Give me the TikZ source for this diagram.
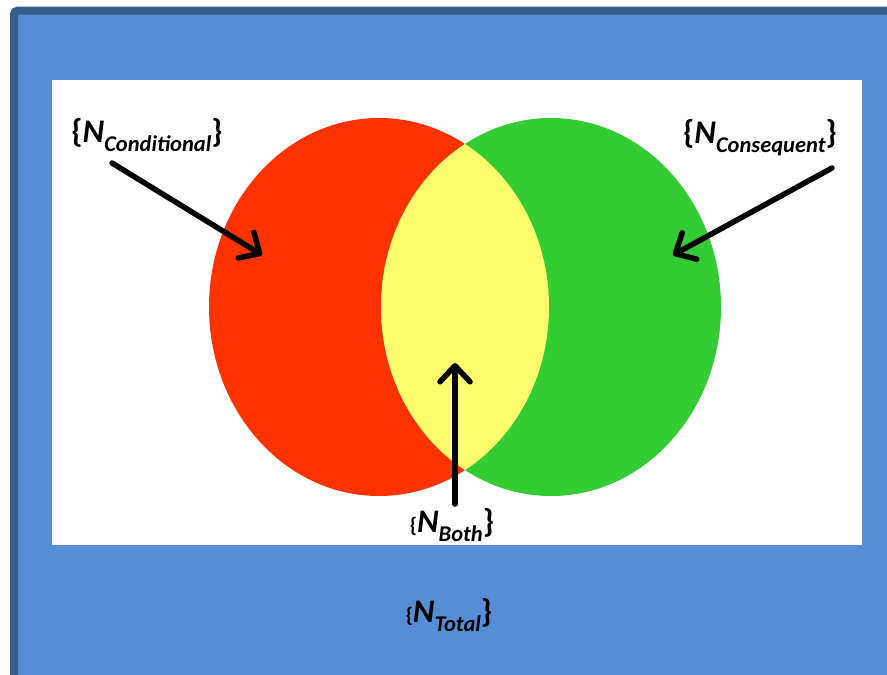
\documentclass[tikz,border=0pt]{standalone}
\usepackage{fontspec}
\setmainfont{Carlito}
\usetikzlibrary{arrows.meta}

\definecolor{panelblue}{HTML}{558ED5}
\definecolor{framedark}{HTML}{3A5E8C}
\definecolor{vennred}{HTML}{FF3300}
\definecolor{venngreen}{HTML}{33CC33}
\definecolor{vennyellow}{HTML}{FFFF6E}

% {N_sub} label: #1 = size of the opening brace, #2 = subscript text
\newcommand\vennlabel[2]{%
  {\bfseries\fontsize{#1}{#1}\selectfont\{}%
  {\bfseries\fontsize{33}{33}\selectfont\itshape N}%
  \raisebox{-9pt}{\bfseries\fontsize{22.5}{22.5}\selectfont\itshape #2}%
  {\bfseries\fontsize{33}{33}\selectfont\}}}

\tikzset{
  setlabel/.style={inner sep=0pt, anchor=base, text=black},
  pointer/.style={line width=5.5pt, draw=black, line cap=round,
    -{Straight Barb[length=16pt, width=30pt, round]}},
}

\begin{document}
\begin{tikzpicture}[x=1pt, y=-1pt]
  \useasboundingbox (0,0) rectangle (887,675);

  % framed blue panel running off the right and bottom edges
  \begin{scope}
    \clip (0,0) rectangle (887,675);
    \draw[line width=8pt, draw=framedark, fill=panelblue, rounded corners=4pt]
      (14,10.5) rectangle (920,710);
  \end{scope}

  % white sheet
  \fill[white] (52,80) rectangle (862,545);

  % the two sets and their overlap
  \fill[vennred] (379,307) ellipse [x radius=170pt, y radius=189pt];
  \fill[venngreen] (551,307) ellipse [x radius=170pt, y radius=189pt];
  \begin{scope}
    \clip (379,307) ellipse [x radius=170pt, y radius=189pt];
    \fill[vennyellow] (551,307) ellipse [x radius=170pt, y radius=189pt];
  \end{scope}

  % labels
  \node[setlabel] (cond)  at (147,142) {\vennlabel{33}{Conditional}};
  \node[setlabel] (cons)  at (760,143) {\vennlabel{33}{Consequent}};
  \node[setlabel] (both)  at (452,532) {\vennlabel{21}{Both}};
  \node[setlabel] (total) at (449,622) {\vennlabel{21}{Total}};

  % arrow end points
  \coordinate (condfrom) at (112,163);
  \coordinate (condto)   at (262,255);
  \coordinate (consfrom) at (832,168);
  \coordinate (consto)   at (673,255);
  \coordinate (bothfrom) at (455,504);
  \coordinate (bothto)   at (455,363);

  \draw[pointer] (condfrom) -- (condto);
  \draw[pointer] (consfrom) -- (consto);
  \draw[pointer] (bothfrom) -- (bothto);
\end{tikzpicture}
\end{document}
